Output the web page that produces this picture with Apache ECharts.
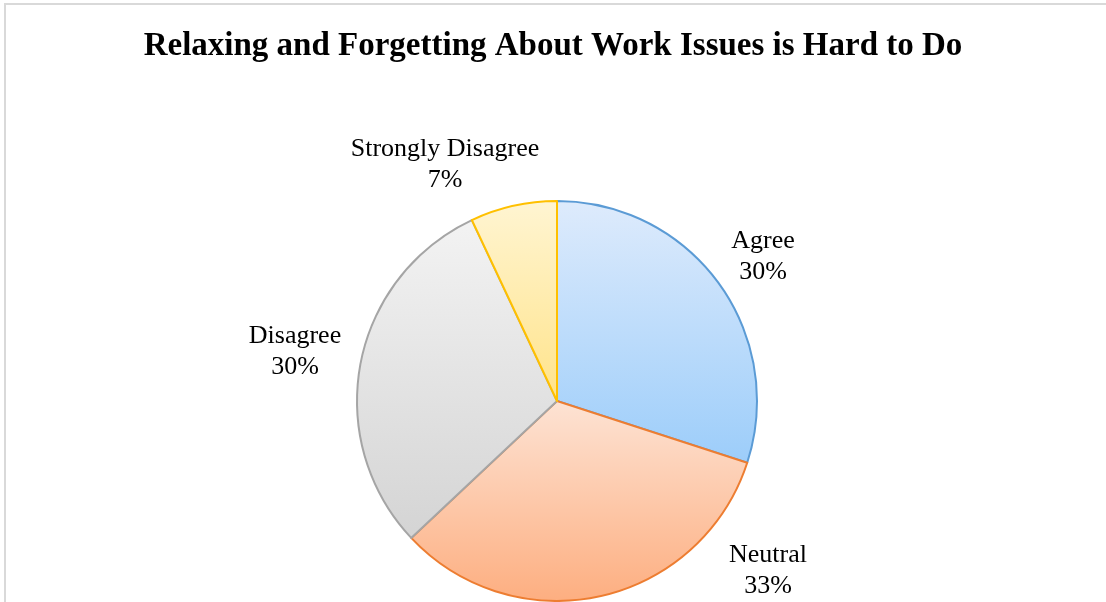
<!DOCTYPE html>
<html>
<head>
<meta charset="utf-8">
<script src="https://cdn.jsdelivr.net/npm/echarts@6/dist/echarts.min.js"></script>
<style>
  html, body { margin: 0; padding: 0; background: #ffffff; }
  #chart { width: 1106px; height: 602px; }
</style>
</head>
<body>
<div id="chart"></div>
<script>
// Survey responses
const categories = ['Agree', 'Neutral', 'Disagree', 'Strongly Disagree'];
const shares = [30, 33, 30, 7];

// Per-slice gradient (top, bottom) and outline colours
const topColors = ['#deebfc', '#fde3d4', '#f3f3f3', '#fff5d2'];
const bottomColors = ['#9ccdfa', '#fdae80', '#d4d4d4', '#ffe38a'];
const edgeColors = ['#5b9bd5', '#ed7d31', '#a5a5a5', '#ffc000'];

// Label anchor points (centre of each two-line label)
const labelAnchors = [[763, 257], [768, 571], [295, 352], [445, 165]];

const chart = echarts.init(document.getElementById('chart'), null, { renderer: 'canvas' });

const data = categories.map((name, i) => ({
  name: name,
  value: shares[i],
  itemStyle: {
    color: new echarts.graphic.LinearGradient(0, 0, 0, 1, [
      { offset: 0, color: topColors[i] },
      { offset: 1, color: bottomColors[i] }
    ]),
    borderColor: edgeColors[i],
    borderWidth: 2
  }
}));

chart.setOption({
  backgroundColor: '#ffffff',
  animation: false,
  title: {
    text: 'Relaxing and Forgetting About Work Issues is Hard to Do',
    left: 'center',
    top: 25,
    textStyle: {
      fontFamily: 'Liberation Serif',
      fontWeight: 'bold',
      fontSize: 33,
      color: '#000000'
    }
  },
  graphic: [{
    type: 'rect',
    shape: { x: 5, y: 4, width: 1120, height: 620 },
    style: { fill: 'none', stroke: '#d9d9d9', lineWidth: 2 },
    silent: true
  }],
  series: [{
    type: 'pie',
    center: [557, 401],
    radius: 200,
    startAngle: 90,
    clockwise: true,
    avoidLabelOverlap: false,
    data: data,
    label: {
      show: true,
      position: 'outside',
      formatter: '{b}\n{d}%',
      fontFamily: 'Liberation Serif',
      fontSize: 26,
      lineHeight: 31,
      color: '#000000',
      align: 'center'
    },
    labelLine: { show: false },
    labelLayout: function (params) {
      const p = labelAnchors[params.dataIndex];
      return { x: p[0], y: p[1], align: 'center', verticalAlign: 'middle' };
    },
    emphasis: { disabled: true }
  }]
});
</script>
</body>
</html>
